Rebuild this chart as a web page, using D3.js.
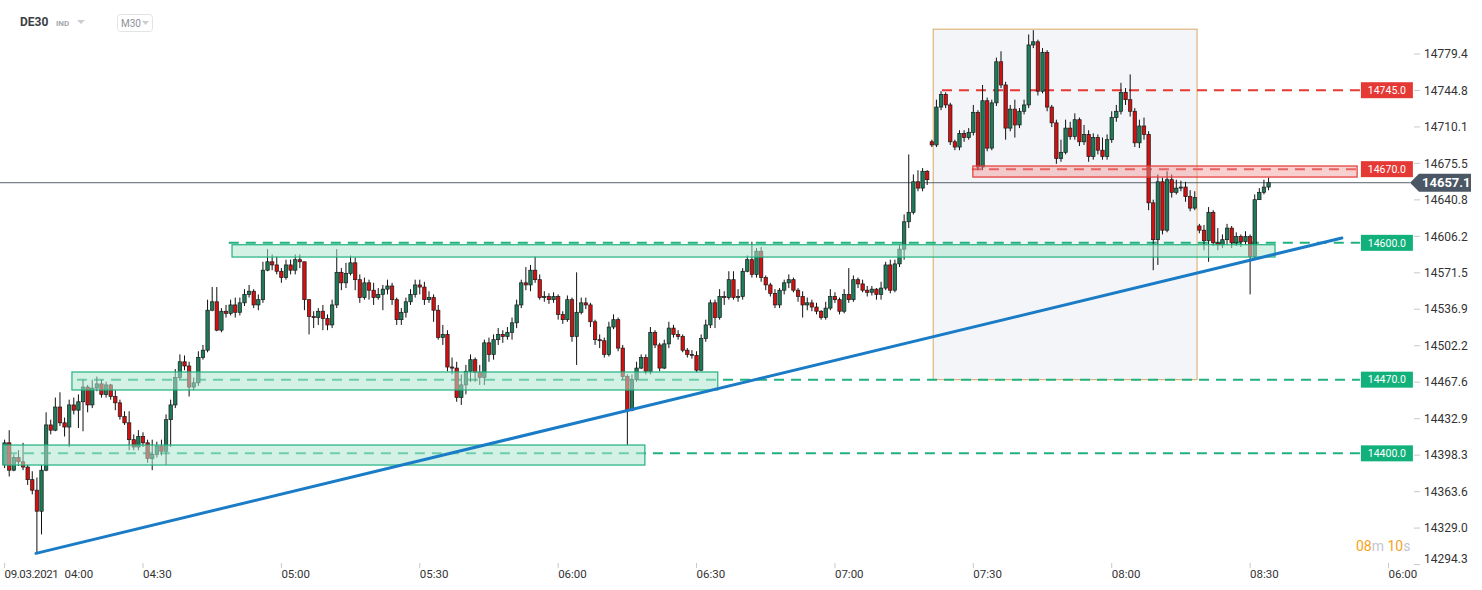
<!DOCTYPE html>
<html><head><meta charset="utf-8">
<script src="https://cdn.jsdelivr.net/npm/d3@7"></script>
<style>html,body{margin:0;padding:0;background:#fff;} svg{display:block;font-family:Roboto,"Noto Sans",sans-serif;}</style>
</head><body><svg id="c" width="1482" height="590"></svg>
<script>
// ---------- DATA ----------
const closes = [
14410,14384,14396,14392,14387,14375,14365,14345,14384,14427,
14422,14444,14429,14425,14446,14441,14449,14463,14446,14462,
14466,14456,14465,14454,14448,14435,14429,14413,14406,14416,
14410,14395,14399,14407,14402,14432,14446,14472,14487,14483,
14463,14467,14491,14498,14536,14544,14517,14535,14533,14541,
14534,14543,14551,14554,14541,14546,14574,14582,14579,14573,
14567,14579,14574,14584,14582,14546,14530,14529,14535,14528,
14522,14541,14572,14562,14571,14581,14565,14548,14562,14555,
14548,14551,14556,14559,14546,14527,14534,14544,14551,14560,
14558,14546,14548,14536,14510,14513,14482,14481,14453,14465,
14478,14489,14477,14472,14505,14494,14508,14513,14511,14515,
14524,14541,14562,14560,14574,14565,14548,14549,14546,14549,
14532,14527,14546,14511,14534,14543,14541,14525,14508,14507,
14494,14520,14527,14500,14473,14441,14470,14481,14491,14478,
14515,14503,14481,14504,14519,14513,14511,14498,14494,14493,
14479,14509,14522,14543,14529,14549,14548,14565,14548,14549,
14573,14584,14570,14592,14567,14560,14552,14541,14555,14562,
14565,14555,14549,14541,14543,14539,14535,14529,14538,14549,
14546,14535,14551,14546,14565,14561,14555,14553,14556,14551,
14557,14579,14555,14580,14594,14620,14629,14658,14652,14668,
14660,14693,14729,14741,14731,14696,14691,14704,14700,14705,
14724,14672,14735,14690,14733,14772,14750,14709,14727,14712,
14725,14731,14788,14791,14744,14781,14729,14714,14680,14686,
14709,14701,14717,14696,14703,14682,14700,14688,14682,14698,
14719,14725,14743,14736,14725,14695,14711,14703,14638,14603,
14658,14612,14660,14648,14652,14653,14644,14633,14643,14612,
14602,14629,14600,14598,14603,14614,14600,14606,14601,14606,
14587,14641,14648,14653,14657.1
];
const highs = [
14413,14422,14399,14403,14410,14389,14383,14377,14389,14439,
14432,14453,14458,14434,14451,14453,14456,14470,14465,14470,
14473,14470,14468,14466,14460,14451,14440,14440,14418,14422,
14420,14413,14413,14411,14413,14437,14451,14480,14494,14493,
14487,14472,14497,14503,14546,14558,14558,14538,14541,14546,
14548,14548,14556,14560,14556,14551,14582,14594,14589,14587,
14576,14584,14584,14589,14589,14582,14546,14535,14538,14541,
14532,14546,14594,14576,14581,14588,14586,14570,14567,14565,
14562,14557,14560,14565,14562,14548,14538,14548,14556,14565,
14565,14563,14554,14551,14541,14522,14517,14491,14487,14475,
14484,14494,14491,14484,14508,14510,14513,14519,14517,14520,
14529,14546,14565,14577,14579,14587,14570,14554,14552,14553,
14551,14535,14550,14548,14572,14548,14548,14543,14527,14513,
14510,14525,14532,14529,14503,14475,14475,14487,14494,14494,
14520,14517,14505,14508,14525,14522,14517,14513,14500,14498,
14497,14513,14527,14546,14546,14556,14554,14573,14573,14556,
14576,14588,14601,14595,14596,14569,14562,14556,14557,14565,
14570,14567,14557,14554,14548,14546,14543,14536,14544,14556,
14553,14548,14556,14576,14569,14567,14565,14559,14559,14557,
14563,14582,14584,14584,14598,14627,14684,14665,14669,14671,
14669,14698,14736,14744,14743,14733,14698,14707,14707,14709,
14731,14726,14750,14738,14736,14776,14782,14753,14731,14736,
14728,14736,14798,14802,14793,14785,14783,14731,14717,14698,
14717,14715,14723,14719,14712,14707,14704,14703,14700,14703,
14725,14731,14752,14747,14760,14728,14717,14719,14706,14641,
14665,14662,14668,14665,14660,14659,14658,14650,14649,14618,
14617,14634,14631,14614,14608,14618,14616,14610,14608,14611,
14608,14646,14652,14660,14662
];
const lows = [
14386,14378,14383,14388,14384,14370,14361,14306,14323,14383,
14418,14421,14426,14416,14406,14437,14424,14421,14439,14443,
14459,14453,14453,14451,14441,14432,14427,14403,14403,14403,
14406,14391,14384,14396,14398,14389,14406,14443,14470,14479,
14454,14460,14464,14489,14496,14535,14516,14515,14529,14531,
14529,14531,14540,14548,14538,14536,14543,14573,14574,14570,
14562,14565,14570,14570,14576,14536,14513,14519,14522,14517,
14517,14519,14538,14555,14557,14569,14555,14543,14546,14546,
14541,14546,14536,14551,14541,14522,14522,14529,14541,14548,
14551,14541,14543,14525,14508,14503,14478,14475,14449,14446,
14456,14468,14468,14465,14465,14487,14489,14503,14505,14508,
14508,14519,14538,14555,14554,14562,14546,14544,14542,14543,
14527,14523,14525,14506,14484,14532,14537,14520,14503,14500,
14491,14492,14518,14497,14470,14408,14440,14468,14480,14475,
14475,14500,14478,14480,14500,14510,14508,14496,14491,14490,
14477,14478,14506,14519,14519,14527,14541,14546,14546,14544,
14546,14572,14567,14567,14563,14555,14549,14538,14538,14551,
14557,14553,14544,14529,14536,14535,14532,14527,14527,14536,
14543,14532,14533,14543,14544,14557,14553,14549,14550,14546,
14546,14555,14552,14553,14577,14584,14614,14627,14649,14649,
14655,14691,14691,14726,14728,14693,14688,14688,14696,14698,
14702,14669,14669,14687,14688,14730,14747,14698,14706,14700,
14709,14722,14728,14785,14740,14742,14725,14710,14675,14677,
14684,14698,14698,14692,14693,14677,14679,14684,14679,14679,
14695,14715,14722,14731,14720,14691,14690,14698,14631,14574,
14579,14608,14610,14643,14646,14649,14639,14630,14631,14609,
14593,14582,14597,14593,14595,14598,14595,14597,14596,14598,
14551,14584,14641,14646,14650
];
const firstOpen = 14389;
const openGaps = {201: 14696, 259: 14616};   // candles that opened away from the prior close
const sessionStart = "04:00:00";             // first 1-minute candle

const yTickValues = [14779.4,14744.8,14710.1,14675.5,14640.8,14606.2,14571.5,14536.9,14502.2,14467.6,14432.9,14398.3,14363.6,14329.0,14294.3];
const xTickTimes  = ["04:00","04:30","05:00","05:30","06:00","06:30","07:00","07:30","08:00","08:30","09:00"];
const xTickLabels = ["09.03.2021","04:30","05:00","05:30","06:00","06:30","07:00","07:30","08:00","08:30","06:00"];

const levelPrices = [14745.0, 14670.0, 14600.0, 14470.0, 14400.0];
const levelStarts = ["07:23:12","07:29:42","04:48:36","04:15:42","04:00:30"];
const levelKinds  = ["res","res","sup","sup","sup"];
const levelEnd = "08:53:48";

const zoneLows   = [14586.5, 14460.2, 14388.9, 14662.5];
const zoneHighs  = [14598.2, 14477.3, 14407.9, 14673.0];
const zoneStarts = ["04:49:18","04:14:36","03:59:40","07:29:54"];
const zoneEnds   = ["08:35:24","06:34:36","06:18:48","08:53:12"];
const zoneKinds  = ["sup","sup","sup","res"];

const boxTimes  = ["07:21:18","08:18:30"];
const boxPrices = [14470.0, 14803.0];

const trendTimes  = ["04:06:48","08:49:54"];
const trendPrices = [14305.0, 14604.6];

const lastPrice = 14657.1;
const symbol = "DE30", symbolType = "IND", interval = "M30";
const timerParts = [["08","num"],["m","unit"],[" 10","num"],["s","unit"]];

// ---------- SETUP ----------
const t = s => { const p = s.split(":").map(Number); return new Date(2021,2,9,p[0],p[1],p[2]||0); };
const svg = d3.select("#c");
const x = d3.scaleTime().domain([t("04:00"), t("09:00")]).range([4.6, 1388.5]);
const y = d3.scaleLinear().domain([14294.3, 14779.4]).range([564.6, 54]);

const candles = closes.map((c,i) => {
  const o = openGaps[i] !== undefined ? openGaps[i] : (i === 0 ? firstOpen : closes[i-1]);
  return {time: d3.timeMinute.offset(t(sessionStart), i), open:o, close:c,
          high: Math.max(highs[i], o, c), low: Math.min(lows[i], o, c)};
});

const GREEN = "#1fb27f", RED = "#e53935";

// analysis box
svg.append("rect")
  .attr("x", x(t(boxTimes[0]))).attr("y", y(boxPrices[1]))
  .attr("width", x(t(boxTimes[1])) - x(t(boxTimes[0])))
  .attr("height", y(boxPrices[0]) - y(boxPrices[1]))
  .attr("fill", "#f4f5f8").attr("stroke", "#d9a766").attr("stroke-width", 1);

// level lines
levelPrices.forEach((p,i) => {
  svg.append("line")
    .attr("x1", x(t(levelStarts[i]))).attr("x2", x(t(levelEnd)))
    .attr("y1", y(p)).attr("y2", y(p))
    .attr("stroke", levelKinds[i] === "res" ? RED : GREEN)
    .attr("stroke-width", 2).attr("stroke-dasharray", "10,7");
});

// last price line
svg.append("line").attr("x1", 0).attr("x2", 1410)
  .attr("y1", y(lastPrice)).attr("y2", y(lastPrice))
  .attr("stroke", "#56616c").attr("stroke-width", 1);

// candles
const cg = svg.append("g");
const bw = 3.4;
cg.selectAll("line.w").data(candles).join("line")
  .attr("x1", d => x(d.time)).attr("x2", d => x(d.time))
  .attr("y1", d => y(d.high)).attr("y2", d => y(d.low))
  .attr("stroke", "#111").attr("stroke-width", 1);
cg.selectAll("rect.b").data(candles).join("rect")
  .attr("x", d => x(d.time) - bw/2)
  .attr("y", d => y(Math.max(d.open, d.close)))
  .attr("width", bw)
  .attr("height", d => Math.max(1, Math.abs(y(d.open) - y(d.close))))
  .attr("fill", d => d.close >= d.open ? "#1d7b57" : "#d40f0f")
  .attr("stroke", "#1a1a1a").attr("stroke-width", 0.7);

// zones (drawn over candles, semi-transparent)
zoneLows.forEach((lo,i) => {
  const res = zoneKinds[i] === "res";
  svg.append("rect")
    .attr("x", x(t(zoneStarts[i]))).attr("y", y(zoneHighs[i]))
    .attr("width", x(t(zoneEnds[i])) - x(t(zoneStarts[i])))
    .attr("height", y(lo) - y(zoneHighs[i]))
    .attr("fill", res ? "rgba(240,150,150,0.45)" : "rgba(175,230,208,0.55)")
    .attr("stroke", res ? RED : GREEN).attr("stroke-width", 1.2);
});

// trend line
svg.append("line")
  .attr("x1", x(t(trendTimes[0]))).attr("y1", y(trendPrices[0]))
  .attr("x2", x(t(trendTimes[1]))).attr("y2", y(trendPrices[1]))
  .attr("stroke", "#1a7cc6").attr("stroke-width", 3).attr("stroke-linecap", "round");

// level tags
levelPrices.forEach((p,i) => {
  const x0 = x(t(levelEnd)) + 1;
  svg.append("rect").attr("x", x0).attr("y", y(p) - 8).attr("width", 52).attr("height", 16)
    .attr("fill", levelKinds[i] === "res" ? RED : "#12b07a");
  svg.append("text").attr("x", x0 + 26).attr("y", y(p)).attr("dy", "0.35em")
    .attr("text-anchor", "middle").attr("font-size", 10.5).attr("fill", "#fff")
    .text(p.toFixed(1));
});

// y axis
const ya = svg.append("g");
yTickValues.forEach(v => {
  const yy = Math.min(y(v), 559);
  ya.append("line").attr("x1", 1414).attr("x2", 1420).attr("y1", y(v)).attr("y2", y(v))
    .attr("stroke", "#c4c9ce").attr("stroke-width", 1);
  ya.append("text").attr("x", 1424).attr("y", yy).attr("dy", "0.35em")
    .attr("font-size", 12).attr("fill", "#333").text(v.toFixed(1));
});

// last price tag
const ly = y(lastPrice);
svg.append("path")
  .attr("d", `M1410,${ly} L1419,${ly-9} L1471,${ly-9} L1471,${ly+9} L1419,${ly+9} Z`)
  .attr("fill", "#4b5764");
svg.append("text").attr("x", 1422).attr("y", ly).attr("dy", "0.36em")
  .attr("font-size", 13).attr("font-weight", "bold").attr("fill", "#fff").text(lastPrice.toFixed(1));

// x axis
const xa = svg.append("g");
xTickTimes.forEach((s,i) => {
  const xx = x(t(s));
  xa.append("line").attr("x1", xx).attr("x2", xx).attr("y1", 563).attr("y2", 568)
    .attr("stroke", "#c4c9ce");
  xa.append("text").attr("x", xx).attr("y", 578).attr("font-size", 11.5).attr("fill", "#333")
    .attr("letter-spacing", i === 0 ? -0.4 : 0)
    .text(xTickLabels[i]);
});
xa.append("text").attr("x", x(t("04:00")) + 60).attr("y", 578).attr("font-size", 11.5).attr("fill", "#333")
  .text(xTickTimes[0]);

// countdown timer
const tt = svg.append("text").attr("x", 1356).attr("y", 551).attr("font-size", 14);
timerParts.forEach(p => tt.append("tspan").attr("fill", p[1] === "num" ? "#f7a21b" : "#c3c7cc").text(p[0]));

// header
svg.append("text").attr("x", 20).attr("y", 26).attr("font-size", 12).attr("font-weight", "bold").attr("fill", "#3b3f44").text(symbol);
svg.append("text").attr("x", 56).attr("y", 26).attr("font-size", 8).attr("font-weight", "bold").attr("fill", "#a3a8ae").text(symbolType);
svg.append("path").attr("d", "M77,20 L85,20 L81,24 Z").attr("fill", "#c9cdd1");
svg.append("rect").attr("x", 117.5).attr("y", 14.5).attr("width", 35).attr("height", 17).attr("rx", 3)
  .attr("fill", "#fff").attr("stroke", "#e1e4e7");
svg.append("text").attr("x", 121).attr("y", 26.5).attr("font-size", 10).attr("fill", "#8d9298").text(interval);
svg.append("path").attr("d", "M142,21 L149,21 L145.5,25 Z").attr("fill", "#c9cdd1");
</script></body></html>
